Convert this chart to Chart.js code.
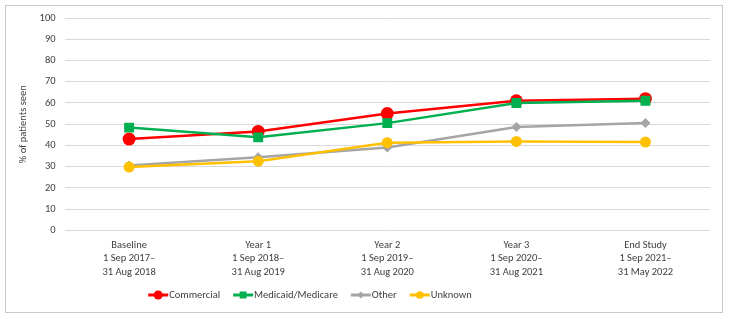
<!DOCTYPE html>
<html><head><meta charset="utf-8">
<script src="https://cdn.jsdelivr.net/npm/chart.js@4"></script>
<style>
html,body{margin:0;padding:0;background:#fff;}
#wrap{position:absolute;left:5px;top:5px;width:718px;height:308px;border:1px solid #c8c8c8;box-sizing:border-box;}
#c{position:absolute;left:0;top:0;}
</style></head><body>
<div id="wrap"></div>
<canvas id="c" width="729" height="319"></canvas>
<script>
const categories = [
  ["Baseline","1 Sep 2017\u2013","31 Aug 2018"],
  ["Year 1","1 Sep 2018\u2013","31 Aug 2019"],
  ["Year 2","1 Sep 2019\u2013","31 Aug 2020"],
  ["Year 3","1 Sep 2020\u2013","31 Aug 2021"],
  ["End Study","1 Sep 2021\u2013","31 May 2022"]
];
const seriesNames = ["Commercial","Medicaid/Medicare","Other","Unknown"];
const commercial = [43.0, 46.6, 55.0, 61.0, 62.0];
const medicaidMedicare = [48.4, 43.8, 50.5, 60.0, 61.0];
const other = [30.6, 34.4, 39.0, 48.7, 50.6];
const unknown = [29.8, 32.6, 41.3, 41.9, 41.6];
const yTicks = [0,10,20,30,40,50,60,70,80,90,100];

const FONT = "'Carlito','Lato',sans-serif";
const FS = 10.5;
const colors = ["#FF0000","#00B050","#A5A5A5","#FFC000"];
const styles = ["circle","rect","rectRot","circle"];
const radii = [6.5,7,5,5.5];
const values = [commercial, medicaidMedicare, other, unknown];

const legendPlugin = {
  id:'customLegend',
  afterDraw(chart){
    const ctx = chart.ctx;
    ctx.save();
    ctx.font = FS + "px " + FONT;
    ctx.textBaseline = 'middle';
    const y = 295;
    const lineW = 20, gap = 1, spacing = 13;
    let widths = seriesNames.map(n => lineW + gap + ctx.measureText(n).width);
    let total = widths.reduce((a,b)=>a+b,0) + spacing*(seriesNames.length-1);
    let x = 310 - total/2;
    seriesNames.forEach((n,i)=>{
      ctx.strokeStyle = colors[i];
      ctx.lineWidth = 3;
      ctx.beginPath(); ctx.moveTo(x,y); ctx.lineTo(x+lineW,y); ctx.stroke();
      ctx.fillStyle = colors[i];
      Chart.helpers.drawPoint(ctx,{pointStyle:styles[i],radius:radii[i]*0.7,borderWidth:0},x+lineW/2,y);
      ctx.fillStyle = '#404040';
      ctx.textAlign='left';
      ctx.fillText(n, x+lineW+gap, y);
      x += widths[i] + spacing;
    });
    ctx.restore();
  }
};

new Chart(document.getElementById('c'), {
  type:'line',
  data:{
    labels: categories,
    datasets: seriesNames.map((n,i)=>({
      label:n,
      data: values[i],
      borderColor: colors[i],
      backgroundColor: colors[i],
      borderWidth: 2.5,
      pointStyle: styles[i],
      pointRadius: radii[i],
      pointHoverRadius: radii[i],
      pointBorderWidth: 0,
      tension: 0
    })).reverse()
  },
  options:{
    responsive:false,
    animation:false,
    layout:{padding:{left:17,right:19,top:18,bottom:40}},
    plugins:{legend:{display:false}, tooltip:{enabled:false}},
    scales:{
      x:{
        offset:true,
        grid:{display:false},
        border:{display:false},
        ticks:{color:'#404040',font:{family:FONT,size:FS,lineHeight:1.29},maxRotation:0,padding:0}
      },
      y:{
        min:0,max:100,
        afterBuildTicks(axis){ axis.ticks = yTicks.map(v=>({value:v})); },
        grid:{color:'#d9d9d9',lineWidth:1,drawTicks:false},
        border:{display:false},
        ticks:{color:'#404040',font:{family:FONT,size:FS},padding:9},
        title:{display:true,text:'% of patients seen',color:'#404040',font:{family:FONT,size:FS},padding:{top:0,bottom:1}}
      }
    }
  },
  plugins:[legendPlugin]
});
</script>
</body></html>
